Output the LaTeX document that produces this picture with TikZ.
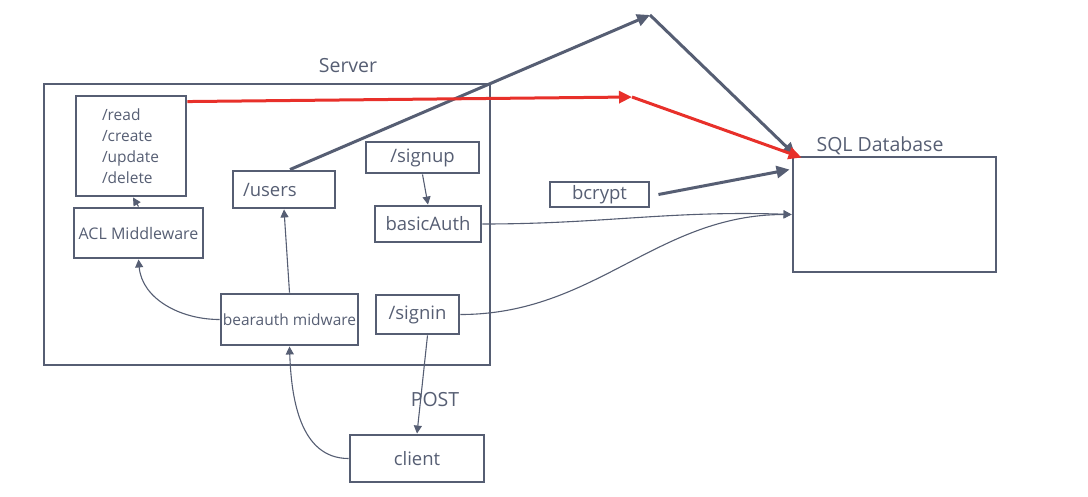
\documentclass[tikz,border=0pt]{standalone}
\usepackage{fontspec}
\setmainfont{Open Sans}
\usepackage{tikz}
\usetikzlibrary{calc, arrows.meta}

\definecolor{ink}{HTML}{565E73}
\definecolor{alert}{HTML}{E8302A}

\begin{document}
\begin{tikzpicture}[x=1pt, y=-1pt,
    box/.style={draw=ink, line width=2.9pt, text=ink, inner sep=0pt,
      font=\fontsize{18.5}{20}\selectfont},
    label/.style={text=ink, inner sep=0pt, font=\fontsize{19.5}{21}\selectfont},
    link/.style={draw=ink, line width=1.1pt, -{Triangle[length=8pt,width=8pt]}},
    heavy/.style={draw=ink, line width=3pt, -{Triangle[length=13pt,width=12pt]}},
    hot/.style={heavy, draw=alert, fill=alert}]

    \useasboundingbox (0,0) rectangle (1088,496);

            % Server frame
            \node[box, minimum width=446pt, minimum height=281pt] (server) at (267,224.5) {};
            \node[label] (servertitle) at (348,66) {Server};

            % Routes inside the server
            \node[box, align=left, text width=58pt, inner xsep=26pt, minimum height=100pt,
              font=\fontsize{15.5}{21}\selectfont] (crud) at (131,146)
              {/read\\/create\\/update\\/delete};
            \node[box, minimum width=129pt, minimum height=50pt,
              font=\fontsize{16}{18}\selectfont] (acl) at (138.5,233) {ACL Middleware};
            \node[box, align=left, text width=82pt, inner xsep=10pt, minimum height=37pt] (users)
              at (284,189.5) {/users};
            \node[box, minimum width=113pt, minimum height=31pt] (signup) at (422.5,157.5) {/signup};
            \node[box, minimum width=106pt, minimum height=36pt] (basic) at (428,224) {basicAuth};
            \node[box, minimum width=137pt, minimum height=51pt,
              font=\fontsize{15.5}{18}\selectfont] (bear) at (289.5,319.5) {bearauth midware};
            \node[box, minimum width=83pt, minimum height=39pt] (signin) at (417.5,314.5) {/signin};

            % Outside the server
            \node[box, minimum width=134pt, minimum height=47pt] (client) at (417,458.5) {client};
            \node[label] (post) at (435,400) {POST};
            \node[box, minimum width=99pt, minimum height=25pt] (bcrypt) at (599.5,194.5) {bcrypt};
            \node[box, minimum width=203pt, minimum height=115pt] (sql) at (894.5,214.5) {};
            \node[label] (sqltitle) at (880,146) {SQL Database};

            % Bend points of the long arrows
            \coordinate (apex) at (650,15);
            \coordinate (knee) at (632,97);

            % /users up to the database
            \draw[heavy] ($(users.north)+(6,0)$) -- (apex);
            \draw[heavy] (apex) -- ($(sql.north west)+(4,0)$);

            % crud routes to the database (red)
            \draw[hot] ($(crud.north east)+(0,7)$) -- (knee);
            \draw[hot] (knee) -- ($(sql.north west)+(10,2)$);

            % bcrypt to the database
            \draw[heavy] ($(bcrypt.east)+(8,0)$) -- ($(sql.north west)+(-2,14)$);

            % auth lines to the database
            \draw[link] (basic.east) to[out=0, in=178] (sql.west);
            \draw[link] (signin.east) to[out=0, in=180] (sql.west);

            % Inner flow
            \draw[link] (signup.south) -- (basic.north);
            \draw[link] (acl.north) -- ($(crud.south)+(2,0)$);
            \draw[link] (bear.north) -- (users.south);
            \draw[link] (bear.west) to[out=180, in=-85] (acl.south);
            \draw[link] (client.west) to[out=180, in=-88] (bear.south);
            \draw[link] ($(signin.south)+(10,0)$) -- (client.north);
        \end{tikzpicture}
\end{document}
